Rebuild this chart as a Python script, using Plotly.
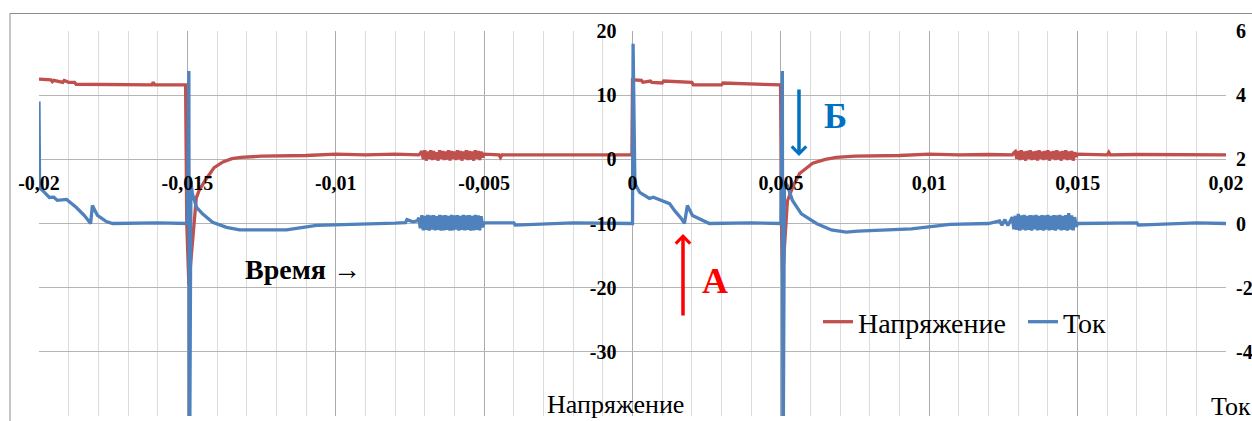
import plotly.graph_objects as go

# ---------------- data ----------------
x_tick_vals = [-0.02, -0.015, -0.01, -0.005, 0, 0.005, 0.01, 0.015, 0.02]
x_tick_text = ["-0,02", "-0,015", "-0,01", "-0,005", "0", "0,005", "0,01", "0,015", "0,02"]
y_tick_vals = [20, 10, 0, -10, -20, -30, -40]
y_tick_text = ["20", "10", "0", "-10", "-20", "-30", ""]
y2_tick_vals = [6, 4, 2, 0, -2, -4, -6]
y2_tick_text = ["6", "4", "2", "0", "-2", "-4", ""]

# voltage (Напряжение), left axis
v_seg1_t = [-0.02000, -0.01960, -0.01955, -0.01950, -0.01920, -0.01915, -0.01900, -0.01880, -0.01875, -0.01760,
            -0.01755, -0.01620, -0.01615, -0.01610, -0.01506, -0.01502, -0.01495, -0.01490, -0.01470, -0.01460,
            -0.01440, -0.01410, -0.01380, -0.01350, -0.01320, -0.01250, -0.01100, -0.01000, -0.00900, -0.00800,
            -0.00725]
v_seg1 = [12.5, 12.4, 12.1, 12.3, 12.0, 12.3, 12.0, 12.0, 11.7, 11.7,
          11.6, 11.6, 12.0, 11.6, 11.6, -10.0, -19.5, -17.0, -6.0, -4.8,
          -3.3, -1.3, -0.4, 0.1, 0.3, 0.5, 0.6, 0.8, 0.7, 0.8,
          0.75]
v_seg2_t = [-0.00500, -0.00450, -0.00445, -0.00440, -0.00200, -0.00002, 0.00000, 0.00030, 0.00035, 0.00060,
            0.00065, 0.00100, 0.00105, 0.00200, 0.00205, 0.00300, 0.00305, 0.00499, 0.00502, 0.00506,
            0.00522, 0.00540, 0.00563, 0.00607, 0.00650, 0.00687, 0.00750, 0.00900, 0.01000, 0.01100,
            0.01200, 0.01275]
v_seg2 = [0.8, 0.7, 0.3, 0.7, 0.75, 0.7, 12.4, 12.3, 12.0, 12.2,
          12.0, 11.9, 12.2, 12.0, 11.6, 11.6, 11.9, 11.6, -10.0, -18.0,
          -6.5, -4.3, -2.2, -0.6, 0.0, 0.3, 0.5, 0.6, 0.8, 0.7,
          0.75, 0.7]
v_seg3_t = [0.01500, 0.01600, 0.01605, 0.01610, 0.01700, 0.02000]
v_seg3 = [0.8, 0.7, 1.1, 0.7, 0.75, 0.7]

# noisy bursts (sample times shared by both series)
burst_t_left = [-0.00720, -0.00715, -0.00710, -0.00705, -0.00700, -0.00695, -0.00690, -0.00685, -0.00680, -0.00675,
                -0.00670, -0.00665, -0.00660, -0.00655, -0.00650, -0.00645, -0.00640, -0.00635, -0.00630, -0.00625,
                -0.00620, -0.00615, -0.00610, -0.00605, -0.00600, -0.00595, -0.00590, -0.00585, -0.00580, -0.00575,
                -0.00570, -0.00565, -0.00560, -0.00555, -0.00550, -0.00545, -0.00540, -0.00535, -0.00530, -0.00525,
                -0.00520, -0.00515, -0.00510, -0.00505]
burst_t_right = [0.01280, 0.01285, 0.01290, 0.01295, 0.01300, 0.01305, 0.01310, 0.01315, 0.01320, 0.01325,
                 0.01330, 0.01335, 0.01340, 0.01345, 0.01350, 0.01355, 0.01360, 0.01365, 0.01370, 0.01375,
                 0.01380, 0.01385, 0.01390, 0.01395, 0.01400, 0.01405, 0.01410, 0.01415, 0.01420, 0.01425,
                 0.01430, 0.01435, 0.01440, 0.01445, 0.01450, 0.01455, 0.01460, 0.01465, 0.01470, 0.01475,
                 0.01480, 0.01485, 0.01490, 0.01495]
v_burst_left = [0.7, 0.9, 1.3, 0.0, 1.4, -0.2, 1.2, 0.1, 1.4, -0.1,
                1.3, 0.0, 1.1, -0.2, 1.4, 0.1, 1.3, -0.1, 1.2, 0.0,
                1.4, -0.2, 1.3, 0.1, 1.2, -0.1, 1.4, 0.0, 1.3, -0.2,
                1.2, 0.1, 1.4, -0.1, 1.3, 0.0, 1.2, -0.2, 1.4, 0.1,
                1.3, -0.1, 1.2, 0.3]
v_burst_right = [0.7, 1.0, 1.2, 0.1, 1.3, -0.1, 1.4, 0.0, 1.2, -0.2,
                 1.3, 0.1, 1.4, -0.1, 1.2, 0.0, 1.3, -0.2, 1.4, 0.1,
                 1.2, -0.1, 1.3, 0.0, 1.4, -0.2, 1.2, 0.1, 1.3, -0.1,
                 1.4, 0.0, 1.2, -0.2, 1.3, 0.1, 1.4, -0.1, 1.2, 0.0,
                 1.3, -0.2, 1.1, 0.4]

# current (Ток), right axis
i_seg1_t = [-0.02000, -0.01998, -0.01988, -0.01965, -0.01950, -0.01938, -0.01907, -0.01874, -0.01847, -0.01826,
            -0.01820, -0.01803, -0.01773, -0.01752, -0.01600, -0.01500, -0.01495, -0.01493, -0.01488, -0.01483,
            -0.01469, -0.01449, -0.01415, -0.01368, -0.01324, -0.01166, -0.01065, -0.00950, -0.00800, -0.00765,
            -0.00760, -0.00740, -0.00725]
i_seg1 = [3.8, 1.1, 1.03, 0.81, 0.82, 0.72, 0.75, 0.5, 0.25, 0.0,
          0.56, 0.25, 0.06, 0.0, 0.02, 0.0, 4.75, -9.0, 1.3, 0.93,
          0.5, 0.3, 0.04, -0.12, -0.2, -0.2, -0.06, -0.04, 0.01, 0.03,
          0.12, 0.05, 0.08]
i_seg2_t = [-0.00500, -0.00400, -0.00395, -0.00200, -0.00002, 0.00000, 0.00002, 0.00008, 0.00024, 0.00057,
            0.00070, 0.00101, 0.00125, 0.00142, 0.00165, 0.00175, 0.00185, 0.00202, 0.00236, 0.00259,
            0.00400, 0.00500, 0.00505, 0.00507, 0.00512, 0.00522, 0.00539, 0.00569, 0.00620, 0.00670,
            0.00720, 0.00760, 0.00940, 0.01070, 0.01200, 0.01237, 0.01245, 0.01255, 0.01265, 0.01275]
i_seg2 = [0.02, 0.02, -0.05, 0.02, 0.0, 0.0, 5.6, 1.25, 0.97, 0.78,
          0.82, 0.72, 0.62, 0.4, 0.15, 0.0, 0.56, 0.25, 0.1, 0.0,
          0.02, 0.0, 4.75, -9.0, 1.3, 1.18, 0.72, 0.3, 0.0, -0.2,
          -0.27, -0.24, -0.17, -0.03, 0.0, 0.08, -0.05, 0.12, -0.06, 0.10]
i_seg3_t = [0.01500, 0.01700, 0.01705, 0.01900, 0.02000]
i_seg3 = [0.0, 0.02, -0.05, 0.02, 0.0]
i_burst_left = [0.18, -0.15, 0.26, -0.21, 0.24, -0.20, 0.27, -0.22, 0.25, -0.19,
                0.26, -0.21, 0.23, -0.20, 0.27, -0.22, 0.25, -0.21, 0.26, -0.20,
                0.24, -0.22, 0.27, -0.21, 0.25, -0.19, 0.26, -0.22, 0.24, -0.20,
                0.27, -0.21, 0.25, -0.20, 0.26, -0.22, 0.24, -0.21, 0.27, -0.20,
                0.25, -0.21, 0.23, -0.12]
i_burst_right = [0.20, -0.18, 0.24, -0.20, 0.30, -0.22, 0.25, -0.19, 0.27, -0.21,
                 0.24, -0.20, 0.26, -0.22, 0.25, -0.18, 0.27, -0.21, 0.24, -0.20,
                 0.26, -0.22, 0.25, -0.19, 0.27, -0.21, 0.24, -0.20, 0.26, -0.22,
                 0.25, -0.18, 0.27, -0.21, 0.24, -0.20, 0.26, -0.22, 0.32, -0.19,
                 0.25, -0.21, 0.20, -0.10]

volt_t = v_seg1_t + burst_t_left + v_seg2_t + burst_t_right + v_seg3_t
volt = v_seg1 + v_burst_left + v_seg2 + v_burst_right + v_seg3
cur_t = i_seg1_t + burst_t_left + i_seg2_t + burst_t_right + i_seg3_t
cur = i_seg1 + i_burst_left + i_seg2 + i_burst_right + i_seg3

# ---------------- layout helpers ----------------
W, H = 1252, 421
L, R, T, B = 39, 1226, 31, 416
FONT = "Liberation Serif"


def px(xp):
    return (xp - L) / (R - L)


def py(yp):
    return (B - yp) / (B - T)


fig = go.Figure()
fig.add_trace(go.Scatter(x=volt_t, y=volt, mode="lines", name="Напряжение",
                         line=dict(color="#C0504D", width=3.3), yaxis="y"))
fig.add_trace(go.Scatter(x=cur_t, y=cur, mode="lines", name="Ток",
                         line=dict(color="#4F81BD", width=3.3), yaxis="y2"))

tickfont = dict(family=FONT, size=20, color="black", weight="bold")

fig.update_layout(
    width=W, height=H,
    margin=dict(l=L, r=W - R, t=T, b=H - B, autoexpand=False),
    paper_bgcolor="white", plot_bgcolor="white",
    font=dict(family=FONT, color="black"),
    showlegend=True,
    legend=dict(orientation="h", x=px(818), y=py(322), xanchor="left", yanchor="middle",
                bgcolor="rgba(0,0,0,0)", borderwidth=0, entrywidth=160, entrywidthmode="pixels",
                font=dict(family=FONT, size=28, color="black")),
    xaxis=dict(range=[-0.02, 0.02], tickmode="array", tickvals=x_tick_vals, ticktext=x_tick_text,
               anchor="free", position=2 / 3, showgrid=True, gridcolor="#ABABAB", gridwidth=1,
               minor=dict(tickmode="linear", tick0=0, dtick=0.001, showgrid=True,
                          gridcolor="#DCDCDC", gridwidth=1, ticks=""),
               zeroline=False, showline=False, ticks="", tickfont=tickfont,
               ticklabelstandoff=10, automargin=False, fixedrange=True),
    yaxis=dict(range=[-40, 20], tickmode="array", tickvals=y_tick_vals, ticktext=y_tick_text,
               anchor="free", position=0.5, side="left", showgrid=True, gridcolor="#B5B5B5",
               zeroline=False, showline=False, ticks="", tickfont=tickfont,
               ticklabelstandoff=16, automargin=False, fixedrange=True),
    yaxis2=dict(range=[-6, 6], tickmode="array", tickvals=y2_tick_vals, ticktext=y2_tick_text,
                overlaying="y", side="right", anchor="free", position=1, showgrid=False,
                zeroline=False, showline=False, ticks="", tickfont=tickfont,
                ticklabelstandoff=9, automargin=False, fixedrange=True),
)

shapes = [
    # outer chart frame (cropped on the right and bottom)
    dict(type="rect", xref="paper", yref="paper", x0=px(10), x1=px(1400), y0=py(500), y1=py(13.5),
         line=dict(color="#8C8C8C", width=1), fillcolor="rgba(0,0,0,0)", layer="below"),
    # white boxes behind axis titles and legend
    dict(type="rect", xref="paper", yref="paper", x0=px(540), x1=px(690), y0=py(440), y1=py(380),
         line=dict(width=0), fillcolor="white", layer="between"),
    dict(type="rect", xref="paper", yref="paper", x0=px(1205), x1=px(1400), y0=py(440), y1=py(380),
         line=dict(width=0), fillcolor="white", layer="between"),
    dict(type="rect", xref="paper", yref="paper", x0=px(807), x1=px(1150), y0=py(340), y1=py(300),
         line=dict(width=0), fillcolor="white", layer="between"),
]
fig.update_layout(shapes=shapes)

annotations = [
    dict(text="Напряжение", x=px(615), y=py(404), xanchor="center", yanchor="middle",
         font=dict(family=FONT, size=26, color="black")),
    dict(text="Ток", x=px(1209), y=py(406), xanchor="left", yanchor="middle",
         font=dict(family=FONT, size=26, color="black")),
    dict(text="Время →", x=px(243), y=py(269), xanchor="left", yanchor="middle",
         font=dict(family=FONT, size=28, color="black", weight="bold")),
    dict(text="А", x=px(715), y=py(281), xanchor="center", yanchor="middle",
         font=dict(family=FONT, size=36, color="#FF0000", weight="bold")),
    dict(text="Б", x=px(835), y=py(117), xanchor="center", yanchor="middle",
         font=dict(family=FONT, size=35, color="#0070C0", weight="bold")),
    dict(text="", x=px(683), y=py(234), ax=0, ay=83, showarrow=True, arrowhead=4,
         arrowsize=0.8, arrowwidth=3.5, arrowcolor="#FF0000"),
    dict(text="", x=px(799), y=py(156), ax=0, ay=-68, showarrow=True, arrowhead=4,
         arrowsize=0.8, arrowwidth=3.5, arrowcolor="#0070C0"),
]
for a in annotations:
    a.setdefault("xref", "paper")
    a.setdefault("yref", "paper")
    a.setdefault("showarrow", False)
fig.update_layout(annotations=annotations)

fig.write_html("out.html", config={"displayModeBar": False, "staticPlot": True},
               post_script="document.body.style.margin='0';")
